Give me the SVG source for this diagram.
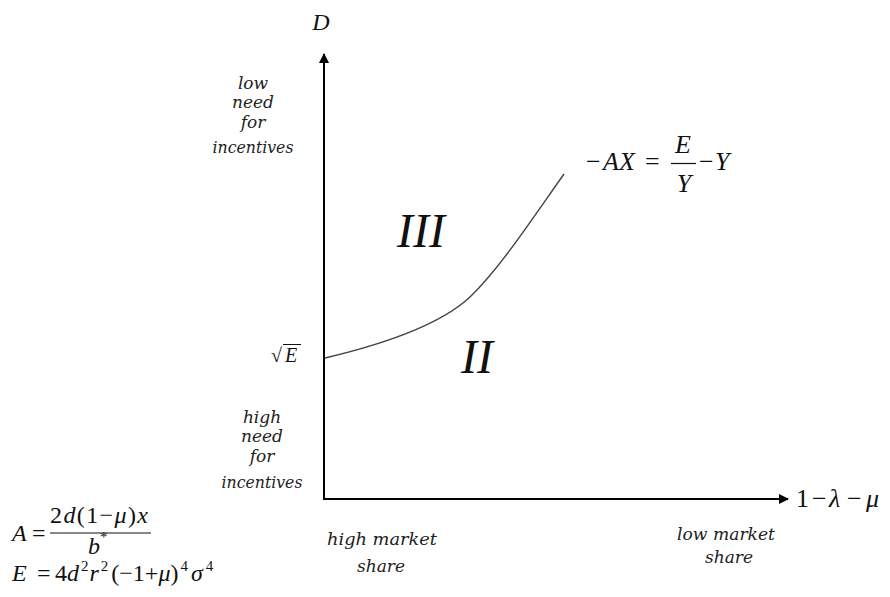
<svg xmlns="http://www.w3.org/2000/svg" width="890" height="597" viewBox="0 0 890 597">
<style>
.lbl{font-family:"DejaVu Serif","Liberation Serif",serif;font-style:italic;font-size:17px;fill:#222;text-anchor:middle}
.m{font-family:"Liberation Serif","Times New Roman",serif;fill:#111}
.i{font-style:italic}
.axis{stroke:#000;stroke-width:2;fill:none}
</style>
<defs>
<marker id="ah" viewBox="0 0 10 10" refX="9" refY="5" markerWidth="10" markerHeight="10" markerUnits="userSpaceOnUse" orient="auto">
<path d="M0,0 L10,5 L0,10 z" fill="#000"/>
</marker>
</defs>
<rect width="890" height="597" fill="#fff"/>
<g id="connectors">
<path class="axis" d="M324,500 L324,54" marker-end="url(#ah)"/>
<path class="axis" d="M323,499 L788,499" marker-end="url(#ah)"/>
<path d="M325,358 C380,345 440,325 470,297 C500,268 530,222 564,174" fill="none" stroke="#444" stroke-width="1.4"/>
</g>
<g id="y-label"><text class="m i" x="321" y="30" font-size="24" text-anchor="middle">D</text></g>
<g id="x-label"><text class="m" x="796" y="507" font-size="26">1<tspan x="812">−</tspan><tspan x="829" class="i">λ</tspan><tspan x="847">−</tspan><tspan x="866" class="i">μ</tspan></text></g>
<g id="low-need">
<text class="lbl" x="253" y="89">low</text>
<text class="lbl" x="253" y="108">need</text>
<text class="lbl" x="253" y="128">for</text>
<text class="lbl" x="253" y="153" textLength="81" lengthAdjust="spacingAndGlyphs">incentives</text>
</g>
<g id="high-need">
<text class="lbl" x="262" y="423">high</text>
<text class="lbl" x="262" y="442">need</text>
<text class="lbl" x="262" y="462">for</text>
<text class="lbl" x="262" y="488" textLength="81" lengthAdjust="spacingAndGlyphs">incentives</text>
</g>
<g id="sqrtE">
<text class="m" x="271" y="362" font-size="20">√</text>
<line x1="283" y1="344.5" x2="301" y2="344.5" stroke="#111" stroke-width="1"/>
<text class="m i" x="285" y="362" font-size="20">E</text>
</g>
<g id="region-III"><text class="m i" x="421" y="247" font-size="48" text-anchor="middle">III</text></g>
<g id="region-II"><text class="m i" x="477" y="373" font-size="48" text-anchor="middle">II</text></g>
<g id="curve-eq">
<text class="m" x="586" y="170" font-size="26">−<tspan x="603" class="i">AX</tspan><tspan x="645">=</tspan></text>
<text class="m i" x="683" y="153" font-size="26" text-anchor="middle">E</text>
<line x1="671" y1="163.5" x2="696" y2="163.5" stroke="#111" stroke-width="1.2"/>
<text class="m i" x="684" y="192" font-size="26" text-anchor="middle">Y</text>
<text class="m" x="699" y="170" font-size="26">−<tspan x="715" class="i">Y</tspan></text>
</g>
<g id="high-market">
<text class="lbl" x="382" y="545" textLength="110" lengthAdjust="spacingAndGlyphs">high  market</text>
<text class="lbl" x="381" y="572">share</text>
</g>
<g id="low-market">
<text class="lbl" x="726" y="540" textLength="98" lengthAdjust="spacingAndGlyphs">low market</text>
<text class="lbl" x="729" y="563">share</text>
</g>
<g id="formula-A">
<text class="m" x="12" y="541" font-size="24"><tspan class="i">A</tspan><tspan x="32">=</tspan></text>
<text class="m" x="50" y="523" font-size="24" textLength="98" lengthAdjust="spacing">2<tspan class="i">d</tspan>(1−<tspan class="i">μ</tspan>)<tspan class="i">x</tspan></text>
<line x1="50" y1="533" x2="151" y2="533" stroke="#111" stroke-width="1.2"/>
<text class="m" x="88" y="554" font-size="24"><tspan class="i">b</tspan><tspan font-size="15" dy="-12">*</tspan></text>
</g>
<g id="formula-E">
<text class="m" x="12" y="581" font-size="24"><tspan class="i">E</tspan><tspan x="37">=</tspan><tspan x="55">4</tspan><tspan class="i">d</tspan><tspan font-size="15" dy="-10" dx="2">2</tspan><tspan class="i" dy="10" dx="1">r</tspan><tspan font-size="15" dy="-10" dx="2">2</tspan><tspan dy="10" dx="3">(−1+</tspan><tspan class="i">μ</tspan>)<tspan font-size="15" dy="-10" dx="2">4</tspan><tspan class="i" dy="10" dx="3">σ</tspan><tspan font-size="15" dy="-10" dx="3">4</tspan></text>
</g>
</svg>
